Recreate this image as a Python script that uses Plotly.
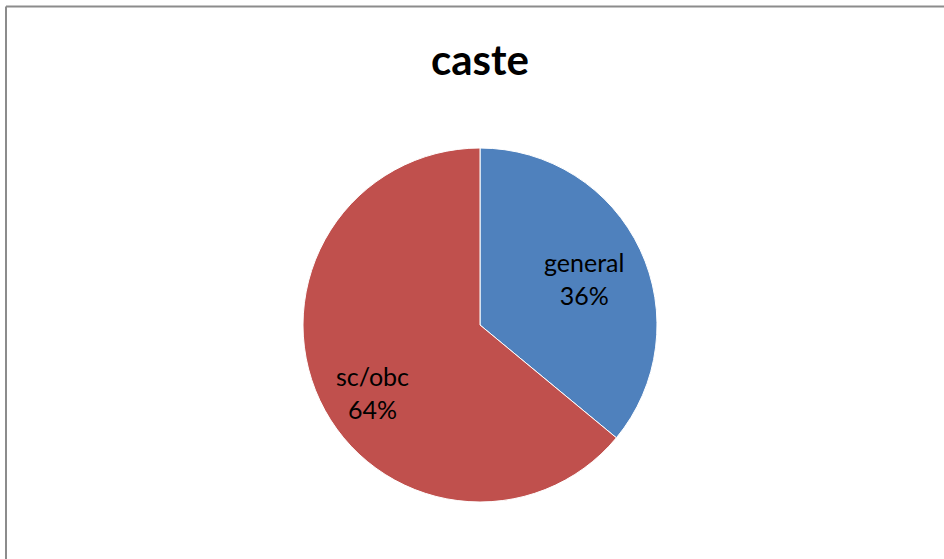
import math
import plotly.graph_objects as go

# Caste distribution of respondents
categories = ["general", "sc/obc"]
shares = [36, 64]
slice_colors = ["#4F81BD", "#C0504D"]

W, H = 944, 559
cx, cy, r = 480, 325, 177  # pie centre and radius in pixels

# label placement inside each slice: distance from centre (fraction of radius)
# and a small angular nudge (degrees) away from the slice's mid-angle
label_radius = [0.645, 0.72]
label_nudge = [1.0, -7.0]

fig = go.Figure(
    go.Pie(
        labels=categories,
        values=shares,
        sort=False,
        direction="clockwise",
        rotation=0,
        marker=dict(colors=slice_colors, line=dict(color="white", width=1)),
        textinfo="none",
        hoverinfo="label+percent",
        domain=dict(x=[(cx - r) / W, (cx + r) / W], y=[1 - (cy + r) / H, 1 - (cy - r) / H]),
        showlegend=False,
    )
)

# data labels: category name and share, placed along each slice's mid-angle
total = sum(shares)
start = 0.0
annotations = []
for name, v, rf, nudge in zip(categories, shares, label_radius, label_nudge):
    span = 360.0 * v / total
    mid = math.radians(start + span / 2 + nudge)
    start += span
    px = cx + rf * r * math.sin(mid)
    py = cy - rf * r * math.cos(mid)
    annotations.append(
        dict(
            text=f"{name}<br>{round(100 * v / total)}%",
            x=px / W,
            y=1 - py / H,
            xref="paper",
            yref="paper",
            xanchor="center",
            yanchor="middle",
            showarrow=False,
            font=dict(family="Lato", size=25, color="black"),
        )
    )

fig.update_layout(
    width=W,
    height=H,
    margin=dict(l=0, r=0, t=0, b=0),
    paper_bgcolor="white",
    plot_bgcolor="white",
    title=dict(
        text="<b>caste</b>",
        font=dict(family="Lato", size=42, color="black"),
        x=480 / W,
        xanchor="center",
        xref="paper",
        yref="paper",
        y=1 - 60 / H,
        yanchor="middle",
    ),
    annotations=annotations,
    shapes=[
        # chart frame: top and left edges
        dict(type="line", xref="paper", yref="paper",
             x0=6 / W, x1=1.5, y0=1 - 6.5 / H, y1=1 - 6.5 / H,
             line=dict(color="#8c8c8c", width=2)),
        dict(type="line", xref="paper", yref="paper",
             x0=6 / W, x1=6 / W, y0=-0.5, y1=1 - 6.5 / H,
             line=dict(color="#8c8c8c", width=2)),
    ],
)

fig.write_html("out.html")
